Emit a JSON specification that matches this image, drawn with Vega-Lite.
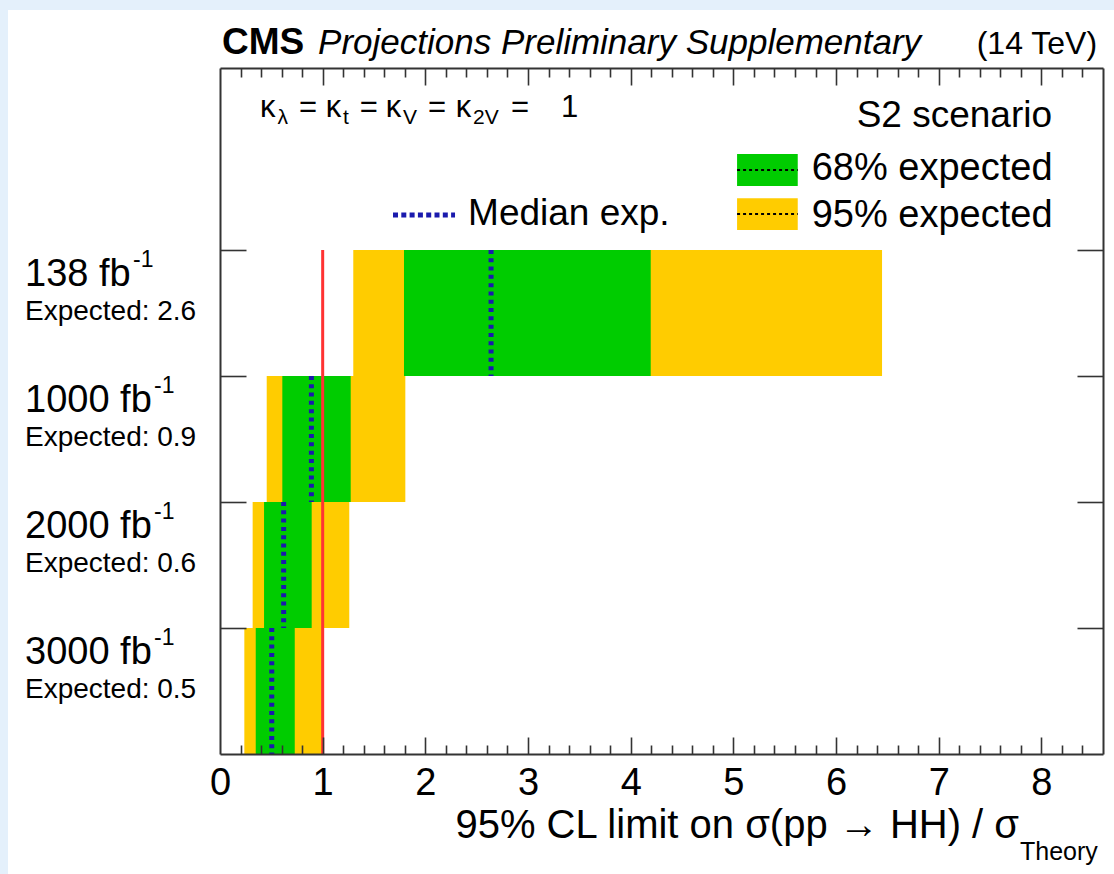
{
  "$schema": "https://vega.github.io/schema/vega-lite/v6.json",
  "width": 883,
  "height": 686,
  "autosize": {"type": "none"},
  "padding": {"left": 220, "top": 68, "right": 11, "bottom": 120},
  "background": "#e4f0fb",
  "config": {
    "font": "Liberation Sans",
    "view": {"stroke": null},
    "axis": {"grid": false, "domain": false, "labels": false, "tickColor": "#333333", "tickWidth": 1.6, "domainColor": "#333333", "domainWidth": 2},
    "text": {"font": "Liberation Sans", "color": "#000000", "baseline": "alphabetic", "align": "left"}
  },
  "datasets": {
    "limits": [
      {"lumi": "138 fb", "lo": 3, "hi": 4, "lo95": 1.298, "lo68": 1.792, "median": 2.64, "hi68": 4.195, "hi95": 6.448},
      {"lumi": "1000 fb", "lo": 2, "hi": 3, "lo95": 0.455, "lo68": 0.607, "median": 0.89, "hi68": 1.273, "hi95": 1.805},
      {"lumi": "2000 fb", "lo": 1, "hi": 2, "lo95": 0.318, "lo68": 0.429, "median": 0.62, "hi68": 0.893, "hi95": 1.259},
      {"lumi": "3000 fb", "lo": 0, "hi": 1, "lo95": 0.237, "lo68": 0.348, "median": 0.504, "hi68": 0.728, "hi95": 1.01}
    ]
  },
  "data": {"name": "limits"},
  "resolve": {"axis": {"x": "independent", "y": "independent"}},
  "layer": [
    {
      "data": {"values": [{}]},
      "mark": {"type": "rect", "color": "#ffffff"},
      "encoding": {
        "x": {"datum": -2.065, "type": "quantitative", "axis": null}, "x2": {"datum": 8.8},
        "y": {"datum": 5.905, "type": "quantitative", "axis": null}, "y2": {"datum": -1.2}
      }
    },
    {
      "mark": {"type": "rect", "color": "#ffcc00"},
      "encoding": {
        "x": {"field": "lo95", "type": "quantitative", "scale": {"domain": [0, 8.6], "nice": false, "zero": false},
              "axis": {"orient": "bottom", "zindex": 1, "values": [0, 1, 2, 3, 4, 5, 6, 7, 8], "ticks": false, "labels": true, "format": "d", "labelFontSize": 38, "labelFont": "Liberation Sans", "labelColor": "#000000", "labelPadding": 10, "labelFlush": false, "labelOverlap": false, "title": null}},
        "x2": {"field": "hi95"},
        "y": {"field": "hi", "type": "quantitative", "scale": {"domain": [0, 5.444], "nice": false, "zero": false},
              "axis": {"orient": "left", "zindex": 1, "values": [1, 2, 3, 4], "tickSize": -26, "domain": true, "title": null}},
        "y2": {"field": "lo"}
      }
    },
    {
      "mark": {"type": "rect", "color": "#00cc00"},
      "encoding": {
        "x": {"field": "lo68", "type": "quantitative",
              "axis": {"orient": "bottom", "zindex": 1, "values": [1, 2, 3, 4, 5, 6, 7, 8], "tickSize": -17, "domain": true, "title": null}},
        "x2": {"field": "hi68"},
        "y": {"field": "hi", "type": "quantitative",
              "axis": {"orient": "right", "zindex": 1, "values": [1, 2, 3, 4], "tickSize": -26, "domain": true, "title": null}},
        "y2": {"field": "lo"}
      }
    },
    {
      "mark": {"type": "rule", "color": "#1a1aad", "strokeWidth": 5, "strokeDash": [4, 4.3]},
      "encoding": {
        "x": {"field": "median", "type": "quantitative",
              "axis": {"orient": "bottom", "zindex": 1, "values": [0.2, 0.4, 0.6, 0.8, 1.2, 1.4, 1.6, 1.8, 2.2, 2.4, 2.6, 2.8, 3.2, 3.4, 3.6, 3.8, 4.2, 4.4, 4.6, 4.8, 5.2, 5.4, 5.6, 5.8, 6.2, 6.4, 6.6, 6.8, 7.2, 7.4, 7.6, 7.8, 8.2, 8.4], "tickSize": -9, "title": null}},
        "y": {"field": "hi", "type": "quantitative", "axis": null},
        "y2": {"field": "lo"}
      }
    },
    {
      "data": {"values": [{}]},
      "mark": {"type": "rule", "color": "#ff3333", "strokeWidth": 3},
      "encoding": {
        "x": {"datum": 1, "type": "quantitative",
              "axis": {"orient": "top", "zindex": 1, "values": [1, 2, 3, 4, 5, 6, 7, 8], "tickSize": -17, "domain": true, "title": null}},
        "y": {"datum": 4, "type": "quantitative", "axis": null},
        "y2": {"datum": 0}
      }
    },
    {
      "mark": {"type": "text", "fontSize": 38, "dy": 36},
      "encoding": {
        "x": {"datum": -1.899, "type": "quantitative",
              "axis": {"orient": "top", "zindex": 1, "values": [0.2, 0.4, 0.6, 0.8, 1.2, 1.4, 1.6, 1.8, 2.2, 2.4, 2.6, 2.8, 3.2, 3.4, 3.6, 3.8, 4.2, 4.4, 4.6, 4.8, 5.2, 5.4, 5.6, 5.8, 6.2, 6.4, 6.6, 6.8, 7.2, 7.4, 7.6, 7.8, 8.2, 8.4], "tickSize": -9, "title": null}},
        "y": {"field": "hi", "type": "quantitative", "axis": null},
        "text": {"field": "lumi"}
      }
    },
    {
      "transform": [{"filter": "datum.lumi === '138 fb'"}],
      "mark": {"type": "text", "fontSize": 23, "dy": 17, "text": "-1"},
      "encoding": {
        "x": {"datum": -0.847, "type": "quantitative", "axis": null},
        "y": {"field": "hi", "type": "quantitative", "axis": null}
      }
    },
    {
      "transform": [{"filter": "datum.lumi !== '138 fb'"}],
      "mark": {"type": "text", "fontSize": 23, "dy": 17, "text": "-1"},
      "encoding": {
        "x": {"datum": -0.643, "type": "quantitative", "axis": null},
        "y": {"field": "hi", "type": "quantitative", "axis": null}
      }
    },
    {
      "mark": {"type": "text", "fontSize": 28, "dy": 70, "text": "Expected:"},
      "encoding": {
        "x": {"datum": -1.899, "type": "quantitative", "axis": null},
        "y": {"field": "hi", "type": "quantitative", "axis": null}
      }
    },
    {
      "mark": {"type": "text", "fontSize": 28, "dy": 70},
      "encoding": {
        "x": {"datum": -0.611, "type": "quantitative", "axis": null},
        "y": {"field": "hi", "type": "quantitative", "axis": null},
        "text": {"field": "median", "format": ".1f"}
      }
    },
    {
      "data": {"values": [{}]},
      "mark": {"type": "rect", "color": "#00cc00"},
      "encoding": {
        "x": {"datum": 5.036, "type": "quantitative", "axis": null}, "x2": {"datum": 5.627},
        "y": {"datum": 4.762, "type": "quantitative", "axis": null}, "y2": {"datum": 4.508}
      }
    },
    {
      "data": {"values": [{}]},
      "mark": {"type": "rect", "color": "#ffcc00"},
      "encoding": {
        "x": {"datum": 5.036, "type": "quantitative", "axis": null}, "x2": {"datum": 5.627},
        "y": {"datum": 4.41, "type": "quantitative", "axis": null}, "y2": {"datum": 4.159}
      }
    },
    {
      "data": {"values": [{}]},
      "mark": {"type": "rule", "color": "#000000", "strokeWidth": 2, "strokeDash": [3, 3]},
      "encoding": {
        "x": {"datum": 5.036, "type": "quantitative", "axis": null}, "x2": {"datum": 5.627},
        "y": {"datum": 4.635, "type": "quantitative", "axis": null}
      }
    },
    {
      "data": {"values": [{}]},
      "mark": {"type": "rule", "color": "#000000", "strokeWidth": 2, "strokeDash": [3, 3]},
      "encoding": {
        "x": {"datum": 5.036, "type": "quantitative", "axis": null}, "x2": {"datum": 5.627},
        "y": {"datum": 4.286, "type": "quantitative", "axis": null}
      }
    },
    {
      "data": {"values": [{}]},
      "mark": {"type": "rule", "color": "#1a1aad", "strokeWidth": 5, "strokeDash": [5, 3.3]},
      "encoding": {
        "x": {"datum": 1.685, "type": "quantitative", "axis": null}, "x2": {"datum": 2.289},
        "y": {"datum": 4.278, "type": "quantitative", "axis": null}
      }
    },
    {
      "data": {"values": [{}]},
      "mark": {"type": "text", "fontSize": 37, "text": "Median exp."},
      "encoding": {"x": {"datum": 2.416, "type": "quantitative", "axis": null}, "y": {"datum": 4.198, "type": "quantitative", "axis": null}}
    },
    {
      "data": {"values": [{}]},
      "mark": {"type": "text", "fontSize": 38, "text": "68% expected"},
      "encoding": {"x": {"datum": 5.763, "type": "quantitative", "axis": null}, "y": {"datum": 4.556, "type": "quantitative", "axis": null}}
    },
    {
      "data": {"values": [{}]},
      "mark": {"type": "text", "fontSize": 38, "text": "95% expected"},
      "encoding": {"x": {"datum": 5.763, "type": "quantitative", "axis": null}, "y": {"datum": 4.183, "type": "quantitative", "axis": null}}
    },
    {
      "data": {"values": [{}]},
      "mark": {"type": "text", "fontSize": 37, "align": "right", "text": "S2 scenario"},
      "encoding": {"x": {"datum": 8.104, "type": "quantitative", "axis": null}, "y": {"datum": 4.976, "type": "quantitative", "axis": null}}
    },
    {
      "data": {"values": [{}]},
      "mark": {"type": "text", "fontSize": 37, "fontWeight": "bold", "text": "CMS"},
      "encoding": {"x": {"datum": 0.019, "type": "quantitative", "axis": null}, "y": {"datum": 5.556, "type": "quantitative", "axis": null}}
    },
    {
      "data": {"values": [{}]},
      "mark": {"type": "text", "fontSize": 35, "fontStyle": "italic", "text": "Projections Preliminary Supplementary"},
      "encoding": {"x": {"datum": 0.955, "type": "quantitative", "axis": null}, "y": {"datum": 5.556, "type": "quantitative", "axis": null}}
    },
    {
      "data": {"values": [{}]},
      "mark": {"type": "text", "fontSize": 32, "align": "right", "text": "(14 TeV)"},
      "encoding": {"x": {"datum": 8.542, "type": "quantitative", "axis": null}, "y": {"datum": 5.556, "type": "quantitative", "axis": null}}
    },
    {
      "data": {"values": [{}]},
      "mark": {"type": "text", "fontSize": 40, "align": "right", "text": "95% CL limit on σ(pp → HH) / σ"},
      "encoding": {"x": {"datum": 7.782, "type": "quantitative", "axis": null}, "y": {"datum": -0.667, "type": "quantitative", "axis": null}}
    },
    {
      "data": {"values": [{}]},
      "mark": {"type": "text", "fontSize": 25, "text": "Theory"},
      "encoding": {"x": {"datum": 7.792, "type": "quantitative", "axis": null}, "y": {"datum": -0.841, "type": "quantitative", "axis": null}}
    },
    {
      "data": {"values": [{}]},
      "mark": {"type": "text", "fontSize": 31, "text": "κ"},
      "encoding": {"x": {"datum": 0.389, "type": "quantitative", "axis": null}, "y": {"datum": 5.056, "type": "quantitative", "axis": null}}
    },
    {
      "data": {"values": [{}]},
      "mark": {"type": "text", "fontSize": 21, "text": "λ"},
      "encoding": {"x": {"datum": 0.56, "type": "quantitative", "axis": null}, "y": {"datum": 5.0, "type": "quantitative", "axis": null}}
    },
    {
      "data": {"values": [{}]},
      "mark": {"type": "text", "fontSize": 31, "text": "="},
      "encoding": {"x": {"datum": 0.77, "type": "quantitative", "axis": null}, "y": {"datum": 5.056, "type": "quantitative", "axis": null}}
    },
    {
      "data": {"values": [{}]},
      "mark": {"type": "text", "fontSize": 31, "text": "κ"},
      "encoding": {"x": {"datum": 1.029, "type": "quantitative", "axis": null}, "y": {"datum": 5.056, "type": "quantitative", "axis": null}}
    },
    {
      "data": {"values": [{}]},
      "mark": {"type": "text", "fontSize": 21, "text": "t"},
      "encoding": {"x": {"datum": 1.198, "type": "quantitative", "axis": null}, "y": {"datum": 5.0, "type": "quantitative", "axis": null}}
    },
    {
      "data": {"values": [{}]},
      "mark": {"type": "text", "fontSize": 31, "text": "="},
      "encoding": {"x": {"datum": 1.36, "type": "quantitative", "axis": null}, "y": {"datum": 5.056, "type": "quantitative", "axis": null}}
    },
    {
      "data": {"values": [{}]},
      "mark": {"type": "text", "fontSize": 31, "text": "κ"},
      "encoding": {"x": {"datum": 1.614, "type": "quantitative", "axis": null}, "y": {"datum": 5.056, "type": "quantitative", "axis": null}}
    },
    {
      "data": {"values": [{}]},
      "mark": {"type": "text", "fontSize": 21, "text": "V"},
      "encoding": {"x": {"datum": 1.782, "type": "quantitative", "axis": null}, "y": {"datum": 5.0, "type": "quantitative", "axis": null}}
    },
    {
      "data": {"values": [{}]},
      "mark": {"type": "text", "fontSize": 31, "text": "="},
      "encoding": {"x": {"datum": 2.025, "type": "quantitative", "axis": null}, "y": {"datum": 5.056, "type": "quantitative", "axis": null}}
    },
    {
      "data": {"values": [{}]},
      "mark": {"type": "text", "fontSize": 31, "text": "κ"},
      "encoding": {"x": {"datum": 2.295, "type": "quantitative", "axis": null}, "y": {"datum": 5.056, "type": "quantitative", "axis": null}}
    },
    {
      "data": {"values": [{}]},
      "mark": {"type": "text", "fontSize": 21, "text": "2V"},
      "encoding": {"x": {"datum": 2.464, "type": "quantitative", "axis": null}, "y": {"datum": 5.0, "type": "quantitative", "axis": null}}
    },
    {
      "data": {"values": [{}]},
      "mark": {"type": "text", "fontSize": 31, "text": "="},
      "encoding": {"x": {"datum": 2.834, "type": "quantitative", "axis": null}, "y": {"datum": 5.056, "type": "quantitative", "axis": null}}
    },
    {
      "data": {"values": [{}]},
      "mark": {"type": "text", "fontSize": 31, "text": "1"},
      "encoding": {"x": {"datum": 3.32, "type": "quantitative", "axis": null}, "y": {"datum": 5.056, "type": "quantitative", "axis": null}}
    }
  ]
}
